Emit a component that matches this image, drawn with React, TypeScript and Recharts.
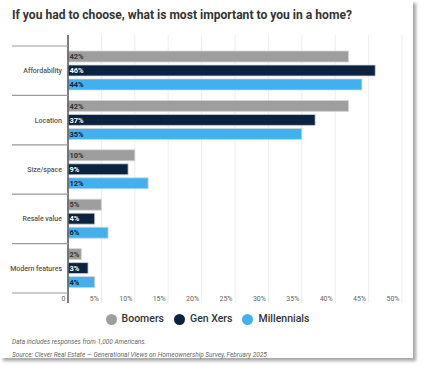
import React from "react";
import { BarChart, Bar, XAxis, YAxis, CartesianGrid, LabelList } from "recharts";

const categories = ["Affordability", "Location", "Size/space", "Resale value", "Modern features"];
const boomers = [42, 42, 10, 5, 2];
const genXers = [46, 37, 9, 4, 3];
const millennials = [44, 35, 12, 6, 4];
const xTicks = [0, 5, 10, 15, 20, 25, 30, 35, 40, 45, 50];

const series = [
  { key: "boomers", name: "Boomers", color: "#9e9e9e", label: "#333333" },
  { key: "genXers", name: "Gen Xers", color: "#0b2240", label: "#ffffff" },
  { key: "millennials", name: "Millennials", color: "#42b0ee", label: "#0b2240" },
];

const data = categories.map((c, i) => ({
  category: c,
  boomers: boomers[i],
  genXers: genXers[i],
  millennials: millennials[i],
}));

const FONT = "Roboto, 'Noto Sans', sans-serif";
const CHART_W = 413;
const CHART_H = 305;
const MARGIN = { top: 35, right: 11, left: 12, bottom: 0 };
const PAD_TOP = 11;
const X_AXIS_H = 12;
const BAND = (CHART_H - MARGIN.top - MARGIN.bottom - X_AXIS_H - PAD_TOP) / categories.length;

const YTick = (props: any) => {
  const { x, y, payload, index } = props;
  const right = x + 6;
  return (
    <g>
      {index === 0 && (
        <line x1={MARGIN.left} x2={right} y1={y - BAND / 2} y2={y - BAND / 2} stroke="#9a9a9a" strokeWidth={1.2} />
      )}
      <line x1={MARGIN.left} x2={right} y1={y + BAND / 2} y2={y + BAND / 2} stroke="#9a9a9a" strokeWidth={1.2} />
      <text x={x} y={y} dy={2.5} textAnchor="end" fontSize={7} fontWeight={500} fill="#555" fontFamily={FONT}>
        {payload.value}
      </text>
    </g>
  );
};

const XTick = (props: any) => {
  const { x, y, payload } = props;
  const isZero = payload.value === 0;
  return (
    <g>
      <line
        x1={x}
        x2={x}
        y1={y}
        y2={y + 10}
        stroke={isZero ? "#555" : "#eeeeee"}
        strokeWidth={isZero ? 1.5 : 1}
      />
      <text x={x - 2.5} y={y + 7.5} textAnchor="end" fontSize={7} fill="#666" fontFamily={FONT}>
        {isZero ? "0" : `${payload.value}%`}
      </text>
    </g>
  );
};

export default function App() {
  return (
    <div style={{ position: "absolute", left: 0, top: 0, width: 425, height: 372, background: "#fff", fontFamily: FONT }}>
      <div
        style={{
          position: "absolute",
          left: 0,
          top: 0,
          width: 413,
          height: 358,
          background: "#fff",
          boxShadow: "3px 3px 3px rgba(0,0,0,0.35)",
        }}
      >
        <div
          style={{
            position: "absolute",
            left: 12,
            top: 8.5,
            fontSize: 12.1,
            lineHeight: 1,
            fontWeight: 700,
            color: "#333",
            whiteSpace: "nowrap",
          }}
        >
          If you had to choose, what is most important to you in a home?
        </div>
        <div style={{ position: "absolute", left: 0, top: 0 }}>
          <BarChart
            width={CHART_W}
            height={CHART_H}
            data={data}
            layout="vertical"
            margin={MARGIN}
            barSize={11}
            barGap={3}
          >
            <CartesianGrid horizontal={false} stroke="#eeeeee" strokeWidth={1} />
            <XAxis
              type="number"
              domain={[0, 50]}
              ticks={xTicks}
              interval={0}
              height={X_AXIS_H}
              axisLine={false}
              tickLine={false}
              tickSize={0}
              tickMargin={0}
              tick={<XTick />}
            />
            <YAxis
              type="category"
              dataKey="category"
              width={56}
              padding={{ top: PAD_TOP, bottom: 0 }}
              axisLine={{ stroke: "#555", strokeWidth: 1.5 }}
              tickLine={false}
              tickSize={0}
              tickMargin={6}
              tick={<YTick />}
              interval={0}
            />
            {series.map((s) => (
              <Bar
                key={s.key}
                dataKey={s.key}
                name={s.name}
                fill={s.color}
                stroke="#d6d6d6"
                strokeWidth={0.8}
                isAnimationActive={false}
              >
                <LabelList
                  dataKey={s.key}
                  position="insideLeft"
                  offset={1.5}
                  formatter={(v: any) => `${v}%`}
                  fill={s.label}
                  fontSize={7.5}
                  fontWeight={700}
                  fontFamily={FONT}
                />
              </Bar>
            ))}
          </BarChart>
        </div>
        <div
          style={{
            position: "absolute",
            left: 1,
            top: 312,
            width: 413,
            height: 14,
            display: "flex",
            justifyContent: "center",
            alignItems: "center",
            gap: 10,
          }}
        >
          {series.map((s) => (
            <div key={s.key} style={{ display: "flex", alignItems: "center" }}>
              <span
                style={{
                  display: "inline-block",
                  width: 11,
                  height: 11,
                  borderRadius: "50%",
                  background: s.color,
                  marginRight: 5,
                }}
              />
              <span style={{ fontSize: 10.5, fontWeight: 500, color: "#333", lineHeight: 1 }}>{s.name}</span>
            </div>
          ))}
        </div>
        <div
          style={{
            position: "absolute",
            left: 12,
            top: 339,
            fontSize: 6.5,
            lineHeight: 1,
            fontStyle: "italic",
            color: "#666",
            whiteSpace: "nowrap",
          }}
        >
          Data includes responses from 1,000 Americans.
        </div>
        <div
          style={{
            position: "absolute",
            left: 12,
            top: 352,
            fontSize: 6.5,
            lineHeight: 1,
            fontStyle: "italic",
            color: "#666",
            whiteSpace: "nowrap",
          }}
        >
          Source: Clever Real Estate — Generational Views on Homeownership Survey, February 2025
        </div>
      </div>
    </div>
  );
}
